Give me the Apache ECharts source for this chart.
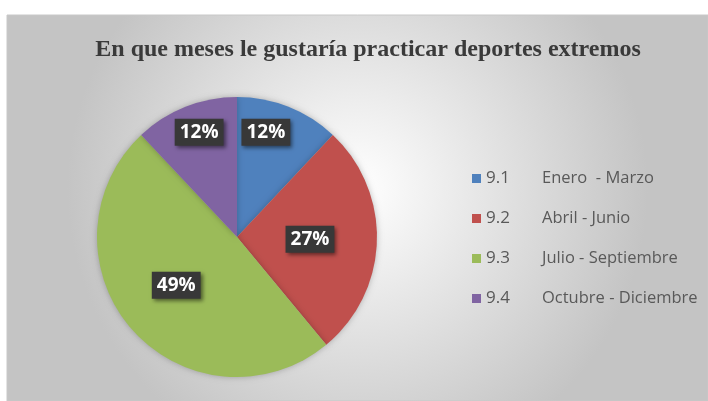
<!DOCTYPE html>
<html>
<head>
<meta charset="utf-8">
<script src="https://cdn.jsdelivr.net/npm/echarts@6/dist/echarts.min.js"></script>
<style>
  html, body { margin: 0; padding: 0; background: #fff; }
  #main { width: 708px; height: 401px; }
</style>
</head>
<body>
<div id="main"></div>
<script>
var codes = ['9.1', '9.2', '9.3', '9.4'];
var periods = ['Enero  - Marzo', 'Abril - Junio', 'Julio - Septiembre', 'Octubre - Diciembre'];
var percents = [12, 27, 49, 12];
var colors = ['#4f81bd', '#c0504d', '#9bbb59', '#8064a2'];
// nudges so labels sit like the original "best fit" placement
var labelShift = [[2, -37], [0, 0], [-6, 0], [-11, -37]];

var chart = echarts.init(document.getElementById('main'));

var pieData = codes.map(function (c, i) {
    return { name: c, value: percents[i], itemStyle: { color: colors[i] } };
});

var option = {
    backgroundColor: '#ffffff',
    graphic: [{
        type: 'rect',
        silent: true,
        z: -10,
        shape: { x: 7, y: 15, width: 701, height: 386 },
        style: {
            fill: {
                type: 'radial', x: 0.5, y: 0.45, r: 0.75,
                colorStops: [
                    { offset: 0, color: '#ffffff' },
                    { offset: 1, color: '#c4c4c4' }
                ]
            },
            stroke: '#c8c8c8',
            lineWidth: 1
        }
    }],
    title: {
        text: 'En que meses le gustaría practicar deportes extremos',
        left: 363,
        textAlign: 'center',
        top: 33,
        textStyle: {
            fontFamily: 'Liberation Serif',
            fontSize: 24,
            fontWeight: 'bold',
            color: '#3a3a3a'
        }
    },
    legend: {
        orient: 'vertical',
        left: 467,
        top: 164,
        itemWidth: 9,
        itemHeight: 9,
        itemGap: 21,
        icon: 'rect',
        data: codes,
        formatter: function (name) {
            var i = codes.indexOf(name);
            return '{a|' + codes[i] + '}{b|' + periods[i] + '}';
        },
        textStyle: {
            color: '#595959',
            fontFamily: 'Open Sans',
            fontSize: 17,
            lineHeight: 19,
            rich: {
                a: { width: 56, fontFamily: 'Open Sans', fontSize: 17, color: '#595959' },
                b: { fontFamily: 'Open Sans', fontSize: 16.5, color: '#595959' }
            }
        }
    },
    series: [{
        type: 'pie',
        center: [237, 237],
        radius: 140,
        startAngle: 90,
        clockwise: true,
        silent: true,
        itemStyle: {
            borderWidth: 0,
            shadowBlur: 6,
            shadowColor: 'rgba(0,0,0,0.25)'
        },
        label: {
            position: 'inside',
            formatter: '{c}%',
            color: '#ffffff',
            fontFamily: 'Open Sans',
            fontWeight: 'bold',
            fontSize: 19,
            backgroundColor: '#383838',
            padding: [5, 5, 3, 5],
            shadowBlur: 4,
            shadowColor: 'rgba(0,0,0,0.5)',
            shadowOffsetX: 2,
            shadowOffsetY: 2
        },
        labelLayout: function (params) {
            var s = labelShift[params.dataIndex];
            return { dx: s[0], dy: s[1] };
        },
        data: pieData
    }]
};

chart.setOption(option);
</script>
</body>
</html>
